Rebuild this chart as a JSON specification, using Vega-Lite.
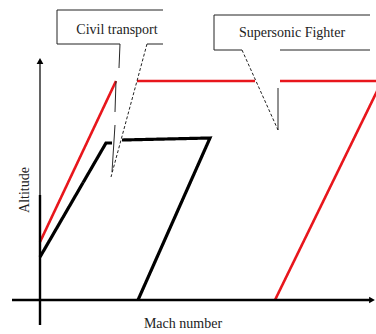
{
  "$schema": "https://vega.github.io/schema/vega-lite/v6.json",
  "width": 376,
  "height": 334,
  "padding": 0,
  "autosize": {"type": "fit", "contains": "padding"},
  "config": {"view": {"stroke": null}},
  "background": "white",
  "datasets": {
    "lines": [
      {"s": "r1", "k": "fighter", "x": 0, "y": 58, "o": 1},
      {"s": "r1", "k": "fighter", "x": 76, "y": 219, "o": 2},
      {"s": "r2", "k": "fighter", "x": 97, "y": 219, "o": 1},
      {"s": "r2", "k": "fighter", "x": 215, "y": 219, "o": 2},
      {"s": "r3", "k": "fighter", "x": 240, "y": 219, "o": 1},
      {"s": "r3", "k": "fighter", "x": 345, "y": 219, "o": 2},
      {"s": "r4", "k": "fighter", "x": 235, "y": 0, "o": 1},
      {"s": "r4", "k": "fighter", "x": 342, "y": 219, "o": 2},
      {"s": "b1", "k": "transport", "x": 0, "y": 43, "o": 1},
      {"s": "b1", "k": "transport", "x": 66, "y": 157, "o": 2},
      {"s": "b1", "k": "transport", "x": 72, "y": 157, "o": 3},
      {"s": "b2", "k": "transport", "x": 82, "y": 160, "o": 1},
      {"s": "b2", "k": "transport", "x": 170, "y": 162, "o": 2},
      {"s": "b2", "k": "transport", "x": 98, "y": 0, "o": 3},
      {"s": "ay1", "k": "axis-thin", "x": 0, "y": 236, "o": 1},
      {"s": "ay1", "k": "axis-thin", "x": 0, "y": 105, "o": 2},
      {"s": "ay2", "k": "axis", "x": 0, "y": 105, "o": 1},
      {"s": "ay2", "k": "axis", "x": 0, "y": -25, "o": 2},
      {"s": "ax", "k": "axis", "x": -28, "y": 0, "o": 1},
      {"s": "ax", "k": "axis", "x": 330, "y": 0, "o": 2},
      {"s": "c1", "k": "callout", "x": 123, "y": 290, "o": 1},
      {"s": "c1", "k": "callout", "x": 17, "y": 290, "o": 2},
      {"s": "c1", "k": "callout", "x": 17, "y": 256, "o": 3},
      {"s": "c1", "k": "callout", "x": 80, "y": 256, "o": 4},
      {"s": "c2", "k": "callout", "x": 107, "y": 256, "o": 1},
      {"s": "c2", "k": "callout", "x": 123, "y": 256, "o": 2},
      {"s": "c3", "k": "callout", "x": 80, "y": 256, "o": 1},
      {"s": "c3", "k": "callout", "x": 79, "y": 232, "o": 2},
      {"s": "c4", "k": "callout", "x": 76, "y": 219, "o": 1},
      {"s": "c4", "k": "callout", "x": 75, "y": 188, "o": 2},
      {"s": "c5", "k": "callout", "x": 75, "y": 175, "o": 1},
      {"s": "c5", "k": "callout", "x": 72, "y": 128, "o": 2},
      {"s": "c6", "k": "leader", "x": 107, "y": 256, "o": 1},
      {"s": "c6", "k": "leader", "x": 71, "y": 123, "o": 2},
      {"s": "s1", "k": "callout", "x": 330, "y": 285, "o": 1},
      {"s": "s1", "k": "callout", "x": 174, "y": 285, "o": 2},
      {"s": "s1", "k": "callout", "x": 174, "y": 250, "o": 3},
      {"s": "s1", "k": "callout", "x": 202, "y": 250, "o": 4},
      {"s": "s2", "k": "callout", "x": 240, "y": 250, "o": 1},
      {"s": "s2", "k": "callout", "x": 330, "y": 250, "o": 2},
      {"s": "s3", "k": "leader", "x": 202, "y": 250, "o": 1},
      {"s": "s3", "k": "leader", "x": 238, "y": 170, "o": 2},
      {"s": "s4", "k": "callout", "x": 238, "y": 212, "o": 1},
      {"s": "s4", "k": "callout", "x": 238, "y": 170, "o": 2}
    ]
  },
  "layer": [
    {
      "data": {"name": "lines"},
      "mark": {"type": "line", "clip": true, "strokeCap": "butt", "strokeJoin": "miter"},
      "encoding": {
        "x": {"field": "x", "type": "quantitative", "scale": {"domain": [-40, 336], "nice": false, "zero": false}, "axis": null},
        "y": {"field": "y", "type": "quantitative", "scale": {"domain": [-34, 300], "nice": false, "zero": false}, "axis": null},
        "detail": {"field": "s", "type": "nominal"},
        "order": {"field": "o", "type": "quantitative"},
        "color": {"field": "k", "type": "nominal", "legend": null,
          "scale": {"domain": ["fighter", "transport", "axis", "axis-thin", "callout", "leader"],
                    "range": ["#e8161c", "#000000", "#000000", "#111111", "#222222", "#222222"]}},
        "strokeWidth": {"field": "k", "type": "nominal", "legend": null,
          "scale": {"type": "ordinal", "domain": ["fighter", "transport", "axis", "axis-thin", "callout", "leader"],
                    "range": [2.6, 3.2, 2.4, 1.3, 1, 1]}},
        "strokeDash": {"field": "k", "type": "nominal", "legend": null,
          "scale": {"domain": ["fighter", "transport", "axis", "axis-thin", "callout", "leader"],
                    "range": [[1, 0], [1, 0], [1, 0], [1, 0], [1, 0], [3, 2]]}}
      }
    },
    {
      "data": {"values": [
        {"a": "up", "x": 0, "y": 239},
        {"a": "right", "x": 332, "y": 0}
      ]},
      "mark": {"type": "point", "filled": true, "color": "#000000", "size": 45, "opacity": 1},
      "encoding": {
        "x": {"field": "x", "type": "quantitative"},
        "y": {"field": "y", "type": "quantitative"},
        "shape": {"field": "a", "type": "nominal", "legend": null,
          "scale": {"domain": ["up", "right"], "range": ["triangle-up", "triangle-right"]}}
      }
    },
    {
      "data": {"values": [
        {"label": "Civil transport", "x": 77, "y": 270},
        {"label": "Supersonic Fighter", "x": 252, "y": 267},
        {"label": "Mach number", "x": 143, "y": -24}
      ]},
      "mark": {"type": "text", "font": "Liberation Serif", "fontSize": 14, "color": "#222222", "align": "center", "baseline": "middle"},
      "encoding": {
        "x": {"field": "x", "type": "quantitative"},
        "y": {"field": "y", "type": "quantitative"},
        "text": {"field": "label", "type": "nominal"}
      }
    },
    {
      "data": {"values": [
        {"label": "Altitude", "x": -15, "y": 110}
      ]},
      "mark": {"type": "text", "font": "Liberation Serif", "fontSize": 14, "angle": 270, "color": "#222222", "align": "center", "baseline": "middle"},
      "encoding": {
        "x": {"field": "x", "type": "quantitative"},
        "y": {"field": "y", "type": "quantitative"},
        "text": {"field": "label", "type": "nominal"}
      }
    }
  ]
}
